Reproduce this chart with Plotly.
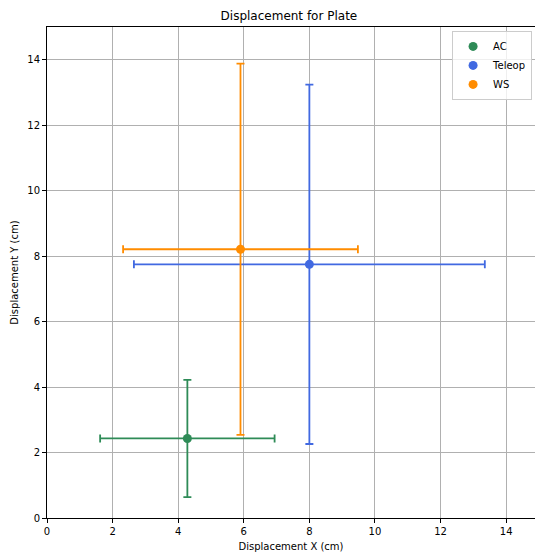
import plotly.graph_objects as go

# Mean displacement and spread per control mode (cm)
modes = ["AC", "Teleop", "WS"]
mean_x = [4.28, 8.00, 5.90]
mean_y = [2.43, 7.75, 8.21]
err_x = [2.66, 5.35, 3.58]
err_y = [1.79, 5.49, 5.67]
colors = ["#2E8B57", "#4169E1", "#FF8C00"]

x_ticks = [0, 2, 4, 6, 8, 10, 12, 14]
y_ticks = [0, 2, 4, 6, 8, 10, 12, 14]

fig = go.Figure()
for name, mx, my, ex, ey, c in zip(modes, mean_x, mean_y, err_x, err_y, colors):
    fig.add_trace(go.Scatter(
        x=[mx], y=[my], name=name, mode="markers",
        marker=dict(color=c, size=9),
        error_x=dict(type="data", array=[ex], color=c, thickness=1.8, width=4),
        error_y=dict(type="data", array=[ey], color=c, thickness=1.8, width=4),
    ))

axis_common = dict(
    showgrid=True, gridcolor="#b0b0b0", gridwidth=1,
    zeroline=False, showline=True, linecolor="black", linewidth=1,
    ticks="outside", ticklen=4, tickcolor="black", tickwidth=1,
    tickfont=dict(family="DejaVu Sans", size=10, color="black"),
    title_font=dict(family="DejaVu Sans", size=10, color="black"),
)

fig.update_layout(
    width=535, height=553,
    margin=dict(l=47, r=0, t=27, b=35),
    plot_bgcolor="white", paper_bgcolor="white",
    title=dict(text="Displacement for Plate", x=0.54, xanchor="center",
               y=1 - 16 / 553, yanchor="middle",
               font=dict(family="DejaVu Sans", size=12, color="black")),
    xaxis=dict(range=[0, 14.88], tickvals=x_ticks, mirror=True,
               title=dict(text="Displacement X (cm)", standoff=6), **axis_common),
    yaxis=dict(range=[0, 15], tickvals=y_ticks, mirror=True,
               title=dict(text="Displacement Y (cm)", standoff=6), **axis_common),
    legend=dict(x=0.994, y=0.992, xanchor="right", yanchor="top",
                bgcolor="rgba(255,255,255,0.8)", bordercolor="#cccccc", borderwidth=1,
                font=dict(family="DejaVu Sans", size=10, color="black"),
                itemwidth=30, tracegroupgap=0),
    showlegend=True,
)

fig.write_html("out.html")
